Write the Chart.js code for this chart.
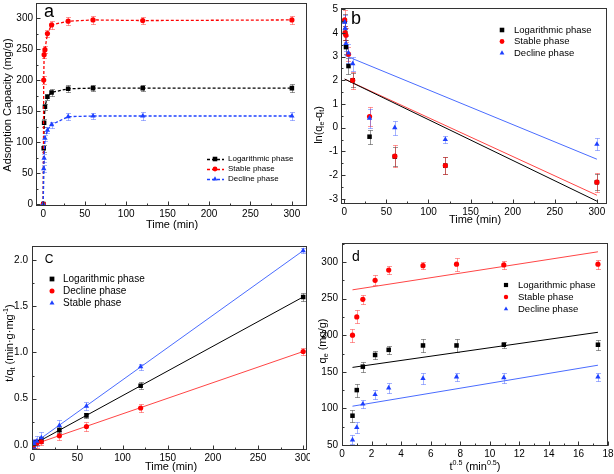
<!DOCTYPE html>
<html>
<head>
<meta charset="utf-8">
<script src="https://cdn.jsdelivr.net/npm/chart.js@4.4.1/dist/chart.umd.min.js"></script>
<style>
  html, body { margin: 0; padding: 0; background: #fff; }
  #wrap { position: relative; width: 614px; height: 474px; overflow: hidden; }
  canvas { position: absolute; }
</style>
</head>
<body>
<div id="wrap">
  <canvas id="chartA" width="310" height="230" style="left:0;top:0"></canvas>
  <canvas id="chartB" width="304" height="230" style="left:310px;top:0"></canvas>
  <canvas id="chartC" width="310" height="244" style="left:0;top:230px"></canvas>
  <canvas id="chartD" width="304" height="244" style="left:310px;top:230px"></canvas>
</div>
<script>
// ---- data ----
// panel a: adsorption capacity vs time
const timesA = [0, 0.5, 1, 2, 5, 10, 30, 60, 120, 300];
const logA = [0, 90, 131, 157, 173, 180, 186, 187, 187, 187];
const stableA = [0, 200, 241, 249, 275, 289, 295, 297, 296, 297];
const declineA = [0, 57, 74, 106, 119, 128, 141, 142, 142, 142];
const errLogA = [0, 6, 6, 5, 5, 5, 6, 5, 5, 6];
const errStableA = [0, 6, 6, 6, 6, 6, 6, 6, 5, 6];
const errDeclineA = [0, 6, 6, 5, 5, 5, 6, 5, 6, 6];

// panel b: pseudo-first-order
const timesB = [0.5, 1, 2, 5, 10, 30, 60, 120, 300];
const logB = [4.5, 4.0, 3.4, 2.6, 2.0, -0.38, -1.22, -1.6, -2.3];
const stableB = [4.55, 4.0, 3.9, 3.1, 2.0, 0.47, -1.2, -1.6, -2.3];
const declineB = [4.45, 4.2, 3.55, 3.15, 2.7, 0.4, 0.0, -0.5, -0.7];
const errLogB = [0.3, 0.3, 0.3, 0.35, 0.3, 0.3, 0.4, 0.35, 0.35];
const errStableB = [0.4, 0.3, 0.3, 0.3, 0.35, 0.4, 0.45, 0.37, 0.4];
const errDeclineB = [0.3, 0.3, 0.3, 0.4, 0.3, 0.4, 0.3, 0.15, 0.25];
const fitTimesB = [0.5, 300];
const fitLogB = [2.05, -3.1];
const fitStableB = [2.05, -2.85];
const fitDeclineB = [3.05, -1.33];

// panel c: pseudo-second-order
const timesC = [0.5, 1, 2, 5, 10, 30, 60, 120, 300];
const logC = [0.006, 0.008, 0.013, 0.029, 0.056, 0.16, 0.32, 0.64, 1.60];
const declineC = [0.003, 0.004, 0.008, 0.018, 0.035, 0.10, 0.20, 0.40, 1.01];
const stableC = [0.009, 0.014, 0.019, 0.042, 0.078, 0.21, 0.42, 0.845, 2.10];
const errLogC = [0.03, 0.03, 0.04, 0.03, 0.03, 0.03, 0.03, 0.04, 0.04];
const errDeclineC = [0.04, 0.05, 0.05, 0.05, 0.04, 0.05, 0.05, 0.04, 0.04];
const errStableC = [0.04, 0.04, 0.05, 0.05, 0.06, 0.06, 0.04, 0.03, 0.03];
const fitTimesC = [0, 300];
const fitLogC = [0.0, 1.6];
const fitDeclineC = [0.0, 1.01];
const fitStableC = [0.005, 2.1];

// panel d: intraparticle diffusion
const sqrtTimesD = [0.71, 1, 1.41, 2.24, 3.16, 5.48, 7.75, 10.95, 17.32];
const logD = [90, 125, 157, 173, 180, 186, 186, 187, 187];
const stableD = [200, 225, 249, 275, 289, 295, 297, 296, 297];
const declineD = [57, 74, 106, 119, 128, 141, 143, 142, 143];
const errLogD = [8, 9, 7, 6, 5, 9, 9, 4, 7];
const errStableD = [9, 9, 6, 7, 6, 5, 9, 6, 6];
const errDeclineD = [6, 8, 6, 6, 7, 8, 5, 7, 6];
const fitSqrtD = [0.71, 17.32];
const fitLogD = [156, 204];
const fitStableD = [262, 314];
const fitDeclineD = [103, 159];

// ---- styling ----
const FONT = "'Liberation Sans', Arial, sans-serif";
const BLACK = '#000000', RED = '#ff0000', BLUE = '#1e40ff';
const RED_LINE = '#ff4545', BLUE_LINE = '#4a6cff';
const GRAY_ERR = 'rgba(0,0,0,0.4)', RED_ERR = 'rgba(255,0,0,0.4)', BLUE_ERR = 'rgba(30,64,255,0.4)';
Chart.defaults.font.family = FONT;
Chart.defaults.color = '#000';

function xyPoints(xs, ys) {
  return xs.map((x, i) => ({ x: x, y: ys[i] }));
}

// lower order is drawn on top: blue, then red, then black, fits underneath
const ORDER = { triangle: 0, circle: 1, rect: 2 };

function markerSet(label, xs, ys, errs, color, errColor, style) {
  const radius = style === 'rect' ? 3.2 : style === 'circle' ? 2.6 : 3.1;
  return {
    label: label, data: xyPoints(xs, ys), errors: errs, errorColor: errColor,
    order: ORDER[style],
    showLine: false, pointStyle: style, pointRadius: radius, pointHoverRadius: radius,
    pointBackgroundColor: color, pointBorderColor: color, pointBorderWidth: 0,
    borderColor: color, backgroundColor: color
  };
}

function fitSet(xs, ys, color) {
  return {
    data: xyPoints(xs, ys), showLine: true, borderColor: color, borderWidth: 1,
    pointRadius: 0, fill: false, order: 5
  };
}

function drawMarker(ctx, style, x, y, r, color) {
  ctx.fillStyle = color;
  ctx.beginPath();
  if (style === 'rect') {
    ctx.rect(x - r, y - r, 2 * r, 2 * r);
  } else if (style === 'circle') {
    ctx.arc(x, y, r, 0, Math.PI * 2);
  } else {
    ctx.moveTo(x, y - r * 1.2);
    ctx.lineTo(x + r * 1.05, y + r * 0.65);
    ctx.lineTo(x - r * 1.05, y + r * 0.65);
    ctx.closePath();
  }
  ctx.fill();
}

// text with _{sub} and ^{sup} pieces
function parseRich(str) {
  const segs = [];
  const re = /([_^])\{([^}]*)\}|([^_^]+)/g;
  let m;
  while ((m = re.exec(str))) {
    if (m[1]) segs.push({ t: m[2], mode: m[1] === '_' ? 'sub' : 'sup' });
    else segs.push({ t: m[3], mode: 'normal' });
  }
  return segs;
}

function drawRich(ctx, str, x, y, size, vertical) {
  const segs = parseRich(str);
  const fontOf = s => (s.mode === 'normal' ? size : size * 0.65) + 'px ' + FONT;
  ctx.save();
  ctx.translate(x, y);
  if (vertical) ctx.rotate(-Math.PI / 2);
  ctx.textBaseline = 'middle';
  ctx.textAlign = 'left';
  ctx.fillStyle = '#000';
  let w = 0;
  segs.forEach(s => { ctx.font = fontOf(s); w += ctx.measureText(s.t).width; });
  let cx = -w / 2;
  segs.forEach(s => {
    ctx.font = fontOf(s);
    const dy = s.mode === 'sub' ? size * 0.3 : s.mode === 'sup' ? -size * 0.38 : 0;
    ctx.fillText(s.t, cx, dy);
    cx += ctx.measureText(s.t).width;
  });
  ctx.restore();
}

const errorBars = {
  id: 'errorBars',
  beforeDatasetsDraw(chart) {
    const ctx = chart.ctx, a = chart.chartArea;
    const sx = chart.scales.x, sy = chart.scales.y;
    ctx.save();
    ctx.beginPath();
    ctx.rect(a.left, a.top, a.right - a.left, a.bottom - a.top);
    ctx.clip();
    chart.data.datasets.forEach(ds => {
      if (!ds.errors) return;
      ctx.strokeStyle = ds.errorColor;
      ctx.lineWidth = 1;
      ds.data.forEach((p, i) => {
        const e = ds.errors[i];
        if (!e) return;
        const px = Math.round(sx.getPixelForValue(p.x)) + 0.5;
        const y1 = Math.round(sy.getPixelForValue(p.y - e)) + 0.5;
        const y2 = Math.round(sy.getPixelForValue(p.y + e)) + 0.5;
        ctx.beginPath();
        ctx.moveTo(px, y1); ctx.lineTo(px, y2);
        ctx.moveTo(px - 2.5, y1); ctx.lineTo(px + 2.5, y1);
        ctx.moveTo(px - 2.5, y2); ctx.lineTo(px + 2.5, y2);
        ctx.stroke();
      });
    });
    ctx.restore();
  }
};

// frame, inward ticks, titles, panel letter and legend
function makeDeco(cfg) {
  return {
    id: 'deco',
    afterDraw(chart) {
      const ctx = chart.ctx, a = chart.chartArea;
      const sx = chart.scales.x, sy = chart.scales.y;
      const L = Math.round(a.left) + 0.5, R = Math.round(a.right) - 0.5;
      const T = Math.round(a.top) + 0.5, B = Math.round(a.bottom) - 0.5;
      ctx.save();
      ctx.strokeStyle = '#333';
      ctx.lineWidth = 1;
      ctx.strokeRect(L, T, R - L, B - T);
      ctx.beginPath();
      sx.ticks.forEach(t => {
        const px = Math.round(sx.getPixelForValue(t.value)) + 0.5;
        ctx.moveTo(px, B); ctx.lineTo(px, B - 4);
      });
      for (let v = Math.ceil(sx.min / cfg.minorX) * cfg.minorX; v <= sx.max; v += cfg.minorX) {
        const px = Math.round(sx.getPixelForValue(v)) + 0.5;
        ctx.moveTo(px, B); ctx.lineTo(px, B - 2);
      }
      sy.ticks.forEach(t => {
        const py = Math.round(sy.getPixelForValue(t.value)) + 0.5;
        ctx.moveTo(L, py); ctx.lineTo(L + 4, py);
      });
      for (let v = Math.ceil(sy.min / cfg.minorY) * cfg.minorY; v <= sy.max; v += cfg.minorY) {
        const py = Math.round(sy.getPixelForValue(v)) + 0.5;
        ctx.moveTo(L, py); ctx.lineTo(L + 2, py);
      }
      ctx.stroke();

      // panel letter
      ctx.fillStyle = '#000';
      ctx.font = cfg.letterSize + 'px ' + FONT;
      ctx.textAlign = 'center';
      ctx.textBaseline = 'middle';
      ctx.fillText(cfg.letter, cfg.letterPos[0], cfg.letterPos[1]);

      // axis titles
      drawRich(ctx, cfg.xTitle, cfg.xTitlePos[0], cfg.xTitlePos[1], cfg.titleSize, false);
      drawRich(ctx, cfg.yTitle, cfg.yTitlePos[0], cfg.yTitlePos[1], cfg.titleSize, true);

      // legend from the labelled datasets
      const lg = cfg.legend;
      ctx.font = lg.size + 'px ' + FONT;
      ctx.textAlign = 'left';
      ctx.textBaseline = 'middle';
      chart.data.datasets.filter(ds => ds.label).forEach((ds, i) => {
        const y = lg.y + i * lg.gap;
        if (lg.line) {
          ctx.save();
          ctx.strokeStyle = ds.borderColor;
          ctx.lineWidth = 1.3;
          ctx.setLineDash([3, 2]);
          ctx.beginPath();
          ctx.moveTo(lg.line[0], y + 0.5); ctx.lineTo(lg.line[1], y + 0.5);
          ctx.stroke();
          ctx.restore();
        }
        const r = ds.pointStyle === 'circle' ? lg.r : lg.r * 0.95;
        drawMarker(ctx, ds.pointStyle, lg.markX, y, r, ds.pointBackgroundColor);
        ctx.fillStyle = '#000';
        ctx.fillText(ds.label, lg.textX, y);
      });
      ctx.restore();
    }
  };
}

function axes(xr, yr, yWidth, xHeight, yPad, yFormat) {
  return {
    x: {
      type: 'linear', min: xr[0], max: xr[1],
      grid: { display: false, drawTicks: false }, border: { display: false },
      ticks: { stepSize: xr[2], includeBounds: false, autoSkip: false, maxRotation: 0,
               padding: 2, font: { size: 10 } },
      afterFit(s) { s.height = xHeight; s.paddingLeft = 0; s.paddingRight = 0; }
    },
    y: {
      type: 'linear', min: yr[0], max: yr[1],
      grid: { display: false, drawTicks: false }, border: { display: false },
      ticks: { stepSize: yr[2], includeBounds: false, autoSkip: false, padding: yPad,
               font: { size: 10 }, callback: yFormat || (v => v) },
      afterFit(s) { s.width = yWidth; s.paddingTop = 0; s.paddingBottom = 0; }
    }
  };
}

function baseOptions(padding, scales) {
  return {
    responsive: false, animation: false, events: [],
    layout: { padding: padding },
    plugins: { legend: { display: false }, tooltip: { enabled: false } },
    scales: scales
  };
}

// Panel a
const dashedA = { showLine: true, borderWidth: 1.3, borderDash: [3, 2] };
new Chart(document.getElementById('chartA').getContext('2d'), {
  type: 'scatter',
  data: {
    datasets: [
      Object.assign(markerSet('Logarithmic phase', timesA, logA, errLogA, BLACK, GRAY_ERR, 'rect'), dashedA),
      Object.assign(markerSet('Stable phase', timesA, stableA, errStableA, RED, RED_ERR, 'circle'), dashedA),
      Object.assign(markerSet('Decline phase', timesA, declineA, errDeclineA, BLUE, BLUE_ERR, 'triangle'), dashedA)
    ]
  },
  options: baseOptions({ left: 0, right: 2, top: 2, bottom: 0 },
    axes([-8.8, 318, 50], [-3.2, 324, 50], 36, 24, 3)),
  plugins: [errorBars, makeDeco({
    minorX: 25, minorY: 25, letter: 'a', letterSize: 18, letterPos: [49, 12],
    xTitle: 'Time (min)', xTitlePos: [172, 225], yTitle: 'Adsorption Capacity (mg/g)',
    yTitlePos: [8, 105], titleSize: 11,
    legend: { size: 8, y: 159, gap: 10, markX: 215, textX: 228, r: 2.4, line: [207, 224] }
  })]
});

// Panel b
new Chart(document.getElementById('chartB').getContext('2d'), {
  type: 'scatter',
  data: {
    datasets: [
      markerSet('Logarithmic phase', timesB, logB, errLogB, BLACK, GRAY_ERR, 'rect'),
      markerSet('Stable phase', timesB, stableB, errStableB, RED, RED_ERR, 'circle'),
      markerSet('Decline phase', timesB, declineB, errDeclineB, BLUE, BLUE_ERR, 'triangle'),
      fitSet(fitTimesB, fitLogB, BLACK),
      fitSet(fitTimesB, fitStableB, RED_LINE),
      fitSet(fitTimesB, fitDeclineB, BLUE_LINE)
    ]
  },
  options: baseOptions({ left: 0, right: 7, top: 8, bottom: 0 },
    axes([-3.9, 312, 50], [-3.22, 5.05, 1], 31, 26, 3)),
  plugins: [errorBars, makeDeco({
    minorX: 25, minorY: 0.5, letter: 'b', letterSize: 18, letterPos: [46, 19],
    xTitle: 'Time (min)', xTitlePos: [165, 220], yTitle: 'ln(q_{e}-q_{t})',
    yTitlePos: [9, 125], titleSize: 11,
    legend: { size: 9.5, y: 30, gap: 11.5, markX: 192, textX: 204, r: 2.4 }
  })]
});

// Panel c
new Chart(document.getElementById('chartC').getContext('2d'), {
  type: 'scatter',
  data: {
    datasets: [
      markerSet('Logarithmic phase', timesC, logC, errLogC, BLACK, GRAY_ERR, 'rect'),
      markerSet('Decline phase', timesC, declineC, errDeclineC, RED, RED_ERR, 'circle'),
      markerSet('Stable phase', timesC, stableC, errStableC, BLUE, BLUE_ERR, 'triangle'),
      fitSet(fitTimesC, fitLogC, BLACK),
      fitSet(fitTimesC, fitDeclineC, RED_LINE),
      fitSet(fitTimesC, fitStableC, BLUE_LINE)
    ]
  },
  options: baseOptions({ left: 0, right: 2, top: 16, bottom: 0 },
    axes([-0.3, 304, 50], [-0.054, 2.15, 0.5], 32, 24, 4, v => v.toFixed(1))),
  plugins: [errorBars, makeDeco({
    minorX: 25, minorY: 0.25, letter: 'C', letterSize: 12, letterPos: [49, 30],
    xTitle: 'Time (min)', xTitlePos: [171, 237], yTitle: 't/q_{t} (min·g·mg^{-1})',
    yTitlePos: [10, 113], titleSize: 11,
    legend: { size: 10, y: 49, gap: 12, markX: 52, textX: 63, r: 2.5 }
  })]
});

// Panel d
new Chart(document.getElementById('chartD').getContext('2d'), {
  type: 'scatter',
  data: {
    datasets: [
      markerSet('Logarithmic phase', sqrtTimesD, logD, errLogD, BLACK, GRAY_ERR, 'rect'),
      markerSet('Stable phase', sqrtTimesD, stableD, errStableD, RED, RED_ERR, 'circle'),
      markerSet('Decline phase', sqrtTimesD, declineD, errDeclineD, BLUE, BLUE_ERR, 'triangle'),
      fitSet(fitSqrtD, fitLogD, BLACK),
      fitSet(fitSqrtD, fitStableD, RED_LINE),
      fitSet(fitSqrtD, fitDeclineD, BLUE_LINE)
    ]
  },
  options: baseOptions({ left: 0, right: 6, top: 13, bottom: 0 },
    axes([0, 18, 2], [48.6, 326, 50], 32, 28, 4)),
  plugins: [errorBars, makeDeco({
    minorX: 1, minorY: 25, letter: 'd', letterSize: 14, letterPos: [46, 27],
    xTitle: 't^{0.5} (min^{0.5})', xTitlePos: [165, 237], yTitle: 'q_{e} (mg/g)',
    yTitlePos: [13, 111], titleSize: 11,
    legend: { size: 9.5, y: 55, gap: 12, markX: 196, textX: 208, r: 2.2 }
  })]
});
</script>
</body>
</html>
